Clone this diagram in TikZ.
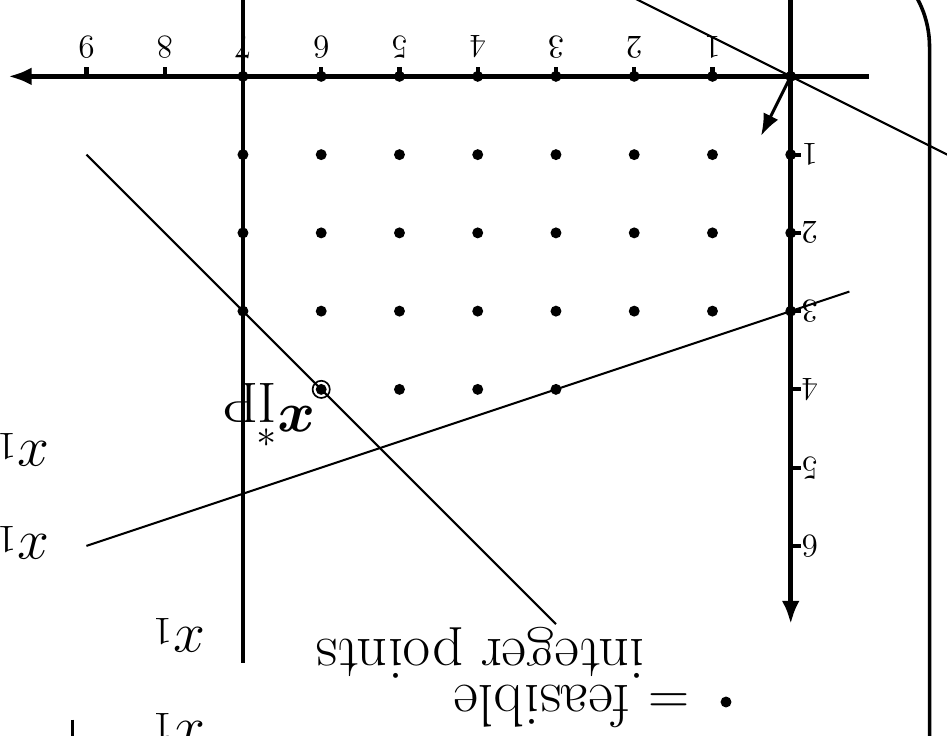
\documentclass[tikz,border=0pt]{standalone}
\usepackage{amsmath}
\usepackage{bm}
\usetikzlibrary{arrows.meta, positioning}
\tikzset{
	axisline/.style={line width=1.7pt, -{Latex[length=8.5pt,width=6.5pt]}},
	latpt/.style={circle, fill, inner sep=0pt, minimum size=1.4mm},
	ticklabel/.style={font=\large, inner sep=0pt},
	bigtext/.style={font=\huge, inner sep=0pt, anchor=base west},
	keytext/.style={font=\fontsize{21.9}{26}\selectfont, inner sep=0pt, anchor=base west},
	cutline/.style={line width=0.75pt}
}

\begin{document}
\begin{tikzpicture}[rotate=180, transform shape]
  \useasboundingbox (-1.997,-0.976) rectangle (10.105,8.429);
  \clip (-1.997,-0.976) rectangle (10.105,8.429);
  % axes
  \coordinate (O) at (0,0);
  \draw[axisline] (-1,0) -- (10,0);
  \draw[axisline] (0,-1) -- (0,7);
  \foreach \i in {1,...,9} {
    \draw[line width=1.5pt] (\i,0) -- (\i,-0.125);
    \node[ticklabel] at (\i,-0.375) {\i};
  }
  \foreach \j in {1,...,6} {
    \draw[line width=1.5pt] (0,\j) -- (-0.125,\j);
    \node[ticklabel] at (-0.245,\j) {\j};
  }
  % feasible integer points
  \foreach \x in {0,...,7}
    \foreach \y in {0,...,3}
      \node[latpt] at (\x,\y) {};
  \foreach \x in {3,4,5}
    \node[latpt] at (\x,4) {};
  \node[latpt] (xip) at (6,4) {};
  \draw[line width=0.6pt] (xip) circle (0.11);
  % constraints
  \coordinate (b1) at (7,-1);   \coordinate (b2) at (7,7.5);
  \coordinate (c1) at (9,1);    \coordinate (c2) at (3,7);
  \coordinate (d1) at (-0.75,2.75); \coordinate (d2) at (9,6);
  \draw[line width=1.4pt] (b1) -- (b2);
  \draw[cutline] (c1) -- (c2);
  \draw[cutline] (d1) -- (d2);
  % objective
  \coordinate (e1) at (-3,1.5); \coordinate (e2) at (3,-1.5);
  \coordinate (grad) at (0.38,0.76);
  \draw[cutline] (e1) -- (e2);
  \draw[line width=1.1pt, -{Latex[length=8pt,width=6pt]}] (O) -- (grad);
  % labels
  \node[bigtext] (opt) at (6.08,4.22) {$\bm{x}^*$};
  \node[bigtext] (optsub) at (6.56,3.92) {IP};
  \node[latpt] (key) at (0.827,7.995) {};
  \node[keytext] (feas) at (1.29,7.79) {$=$ feasible};
  \node[keytext] (ipts) at (1.86,7.2) {integer points};
  \node[bigtext] (lab1) at (9.48,4.67) {$x_1$};
  \node[bigtext] (lab2) at (9.48,5.86) {$x_1$};
  \node[bigtext] (lab3) at (7.49,7.04) {$x_1$};
  \node[bigtext] (lab4) at (7.49,8.25) {$x_1$};
  \draw[line width=1pt] (9.18,8.22) -- (9.18,8.7);
  % frame
  \draw[line width=1.3pt] (-1.774,9) -- (-1.774,-0.376)
    arc[start angle=180, end angle=270, radius=1.3];
\end{tikzpicture}
\end{document}
